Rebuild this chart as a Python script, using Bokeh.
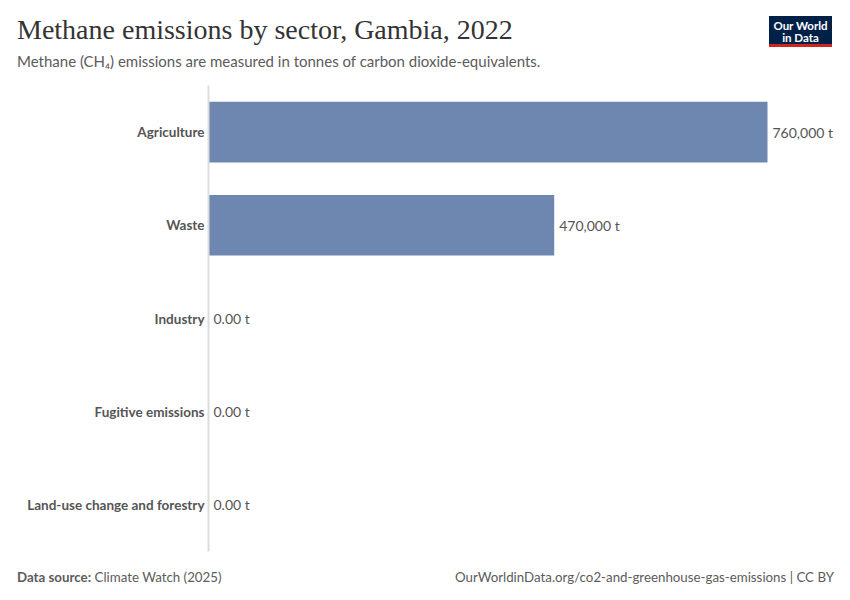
from bokeh.plotting import figure
from bokeh.models import FactorRange, Range1d, ColumnDataSource, Div
from bokeh.layouts import column
from bokeh.core.properties import value
from bokeh.embed import file_html
from bokeh.resources import INLINE

sectors = ["Agriculture", "Waste", "Industry", "Fugitive emissions", "Land-use change and forestry"]
values = [760000, 470000, 0, 0, 0]
labels = ["0.00 t" if v == 0 else f"{v:,.0f} t" for v in values]

title = "Methane emissions by sector, Gambia, 2022"
subtitle = "Methane (CH\u2084) emissions are measured in tonnes of carbon dioxide-equivalents."
source_label = "Data source:"
source_text = "Climate Watch (2025)"
url_text = "OurWorldinData.org/co2-and-greenhouse-gas-emissions | CC BY"

W = 850
HEAD_H, PLOT_H, FOOT_H = 85, 475, 40
FL, FR, FB = 208, 0, 9
frame_w = W - FL - FR

header = Div(width=W, height=HEAD_H, margin=0, text=f"""
<div style="position:relative;width:{W}px;height:{HEAD_H}px;background:white;">
  <div style="position:absolute;left:17px;top:16px;font-family:'Liberation Serif',serif;font-size:28px;line-height:28px;color:#333333;white-space:nowrap;">{title}</div>
  <div style="position:absolute;left:17px;top:53px;font-family:Lato,sans-serif;font-size:15px;line-height:16px;color:#5b5b5b;white-space:nowrap;">{subtitle}</div>
  <div style="position:absolute;left:769px;top:16px;width:63px;height:31px;background:#002147;border-bottom:3px solid #ce261e;"></div>
  <div style="position:absolute;left:769px;top:20px;width:63px;text-align:center;color:white;font-family:Lato,sans-serif;font-weight:bold;font-size:11.5px;line-height:11px;white-space:nowrap;">Our World</div>
  <div style="position:absolute;left:769px;top:32px;width:63px;text-align:center;color:white;font-family:Lato,sans-serif;font-weight:bold;font-size:11.5px;line-height:11px;white-space:nowrap;">in Data</div>
</div>""")

footer = Div(width=W, height=FOOT_H, margin=0, text=f"""
<div style="position:relative;width:{W}px;height:{FOOT_H}px;background:white;font-family:Lato,sans-serif;font-size:13.3px;line-height:14px;color:#5b5b5b;white-space:nowrap;">
  <div style="position:absolute;left:17px;top:10px;"><b>{source_label}</b> {source_text}</div>
  <div style="position:absolute;right:16px;top:10px;">{url_text}</div>
</div>""")

p = figure(width=W, height=PLOT_H, output_backend="svg", toolbar_location=None,
           y_range=FactorRange(factors=list(reversed(sectors)), range_padding=0),
           x_range=Range1d(0, 760000 * frame_w / 559.0),
           min_border_left=FL, min_border_right=FR, min_border_top=0, min_border_bottom=FB,
           margin=0)
p.outline_line_color = None
p.grid.visible = False
p.xaxis.visible = False
p.background_fill_color = "white"
p.border_fill_color = "white"

yax = p.yaxis[0]
yax.major_tick_line_color = None
yax.minor_tick_line_color = None
yax.major_tick_out = 0
yax.major_tick_in = 0
yax.axis_line_color = "#dddddd"
yax.axis_line_width = 2
yax.major_label_text_font = "Lato"
yax.major_label_text_font_style = "bold"
yax.major_label_text_font_size = "13.5px"
yax.major_label_text_color = "#555555"
yax.major_label_standoff = 4

src = ColumnDataSource(dict(y=sectors, v=values, lab=labels))
p.hbar(y="y", right="v", left=0, height=0.65, source=src, color="#6d87b0", line_color=None)
p.text(x="v", y="y", text="lab", source=src, x_offset=5, text_baseline="middle",
       text_font_size="14px", text_color="#555555", text_font=value("Lato"))

layout = column(header, p, footer, spacing=0, margin=0)
open("out.html", "w").write(file_html(layout, INLINE))
